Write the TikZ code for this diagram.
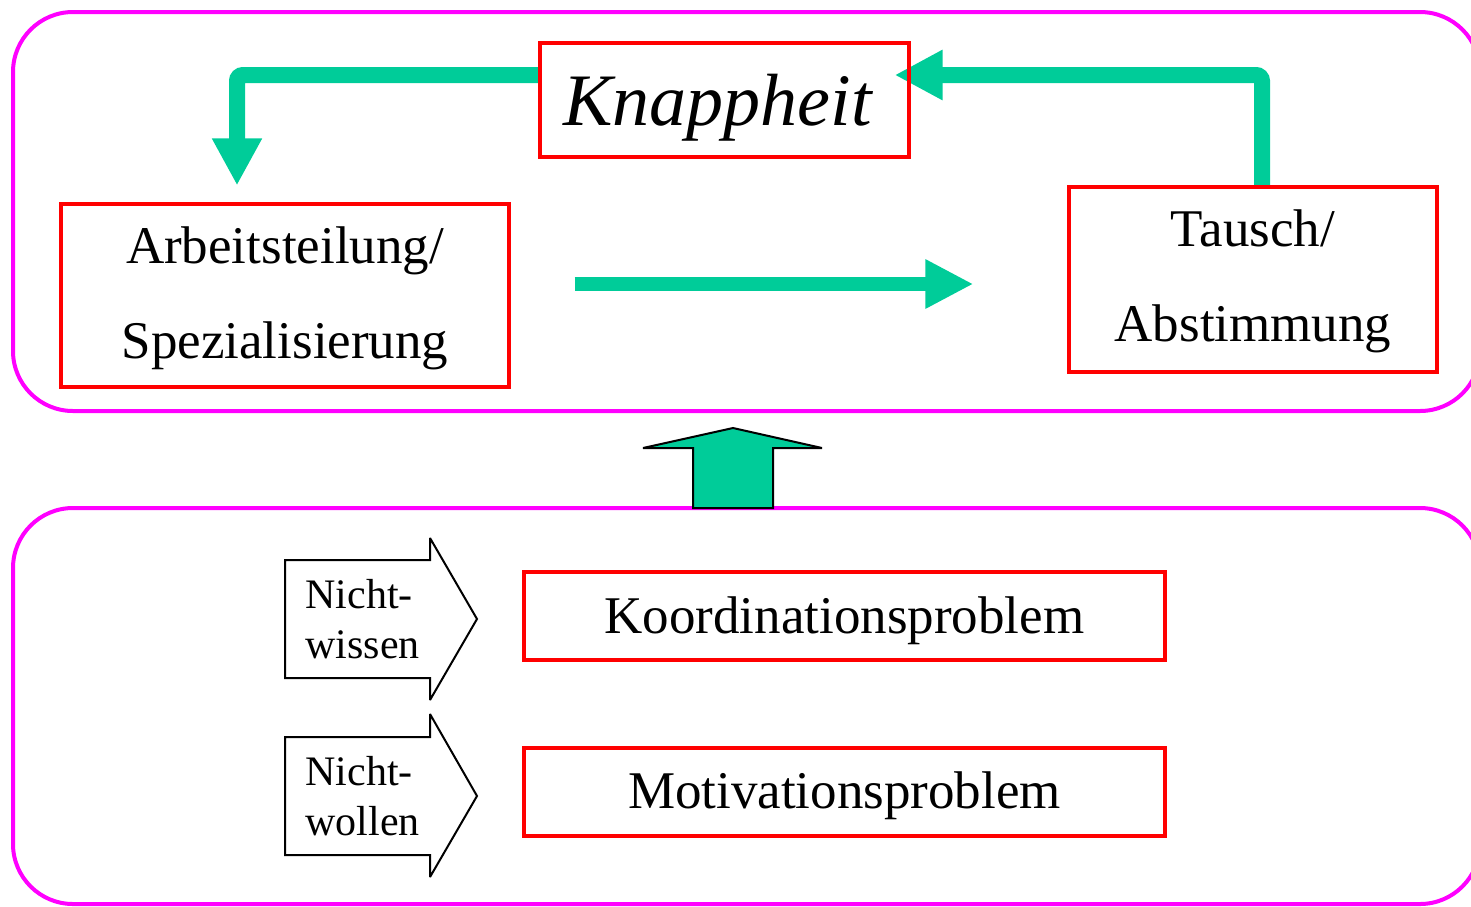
\documentclass[tikz,border=0pt]{standalone}
\usepackage{fontspec}
\setmainfont{Liberation Serif}
\usetikzlibrary{arrows.meta}
\definecolor{mag}{HTML}{FF00FF}
\definecolor{gr}{HTML}{00CC99}
\pgfdeclarelayer{bg}
\pgfsetlayers{bg,main}
\newcommand{\lowr}[2]{\raisebox{-#1}[\height][\depth]{#2}}
\begin{document}
\begin{tikzpicture}[x=0.5pt,y=-0.5pt,
  frame/.style={draw=mag,line width=2pt,rounded corners=30pt},
  redbox/.style={draw=red,line width=1.6pt,inner sep=0pt,align=center},
  garrow/.style={draw=gr,line width=8pt,rounded corners=3pt},
  blockarrow/.style={draw=black,line width=1pt,line join=miter,miter limit=3},
  bigtext/.style={font=\fontsize{26.5}{47.5}\selectfont},
  smalltext/.style={font=\fontsize{21}{25}\selectfont,align=left,inner sep=0pt}]
\useasboundingbox (0,0) rectangle (1471,906);
\clip (0,0) rectangle (1471,906);
% frames
\draw[frame] (13,12) rectangle (1480,411);
\draw[frame] (13,508) rectangle (1480,904);
% boxes
\node[redbox, minimum width=184.5pt, minimum height=57pt,
      font=\fontsize{37}{44}\selectfont\itshape] (knapp) at (724.5,100)
      {\hspace{-3.5pt}\lowr{3.85pt}{Knappheit}\hspace{3.5pt}};
\node[redbox, bigtext, minimum width=224pt, minimum height=91.5pt] (arbeit) at (285,295.5)
      {\lowr{1.5pt}{Arbeitsteilung/}\\\lowr{1.5pt}{Spezialisierung}};
\node[redbox, bigtext, minimum width=184pt, minimum height=92.5pt] (tausch) at (1253,279.5)
      {\lowr{1pt}{Tausch/}\\\lowr{1pt}{Abstimmung}};
\node[redbox, bigtext, minimum width=320.5pt, minimum height=44pt] (koord) at (844.5,616)
      {\lowr{2.35pt}{Koordinationsproblem}};
\node[redbox, bigtext, minimum width=320.5pt, minimum height=44pt] (motiv) at (844.5,792)
      {\lowr{1.85pt}{Motivationsproblem}};
% green connectors (behind boxes)
\begin{pgfonlayer}{bg}
\draw[garrow, -{Triangle[width=23.5pt,length=23.5pt]}]
  ([yshift=12.5pt]knapp.west) -| ([xshift=-24pt,yshift=8.5pt]arbeit.north);
\draw[garrow, -{Triangle[width=23.5pt,length=24pt]}]
  ([xshift=4.5pt]tausch.north) |- ([xshift=-8pt,yshift=12.5pt]knapp.east);
\draw[draw=gr, line width=7pt, -{Triangle[width=23pt,length=24pt]}]
  ([xshift=32pt,yshift=5.75pt]arbeit.east) -- ([xshift=-47pt,yshift=-2.25pt]tausch.west);
\end{pgfonlayer}
% up block arrow
\draw[blockarrow, fill=gr] (693,508) -- (693,448) -- (643,448) -- (733,428) -- (822,448)
  -- (773,448) -- (773,508) -- cycle;
% Nicht- arrows
\draw[blockarrow, fill=white] (285,560) -- (430,560) -- (430,538) -- (477,619) -- (430,700)
  -- (430,678) -- (285,678) -- cycle;
\node[smalltext, anchor=west] (nw) at (305,619) {Nicht-\\wissen};
\draw[blockarrow, fill=white] (285,737) -- (430,737) -- (430,714) -- (477,796) -- (430,877)
  -- (430,855) -- (285,855) -- cycle;
\node[smalltext, anchor=west] (nwo) at (305,796) {Nicht-\\wollen};
\end{tikzpicture}
\end{document}
